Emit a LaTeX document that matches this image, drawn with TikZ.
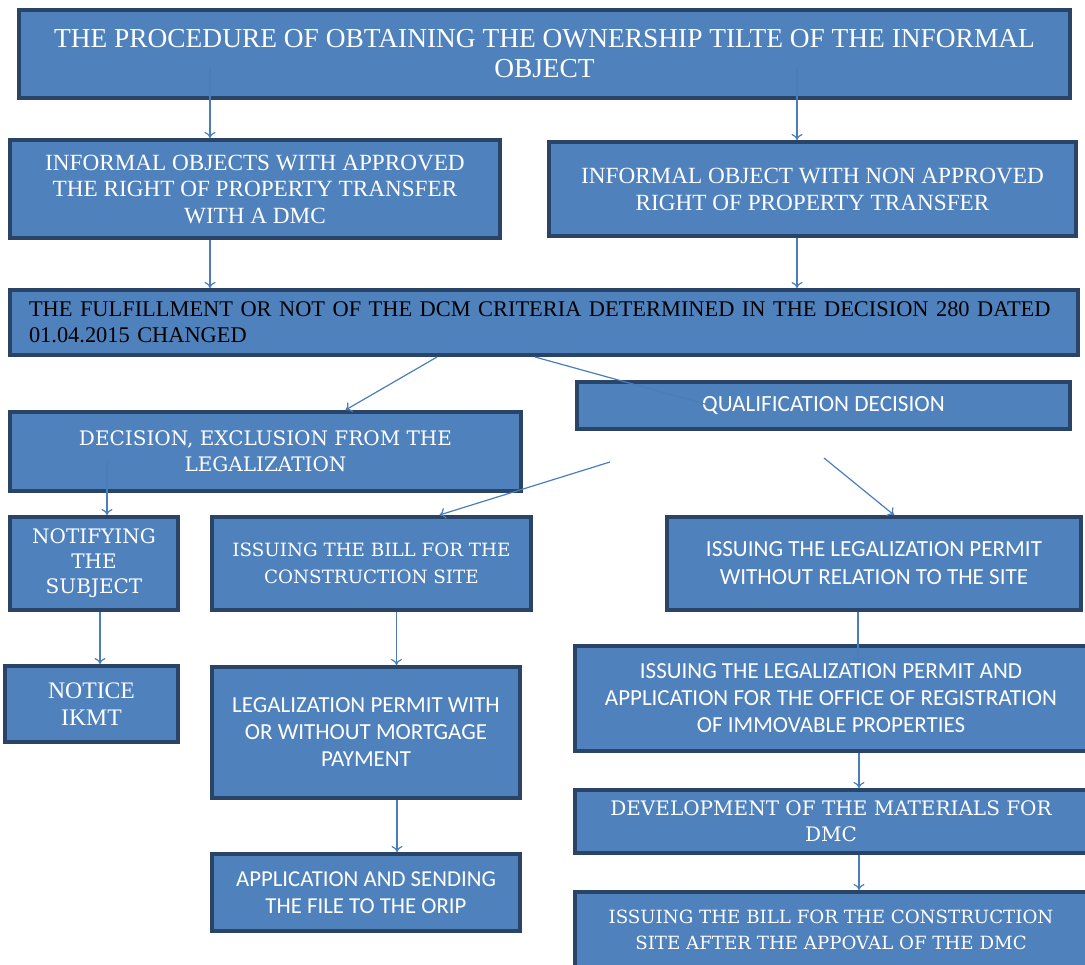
\documentclass[tikz,border=0pt]{standalone}
\usepackage{fontspec}
\setmainfont{Liberation Serif}
\newfontfamily\calibrifont{Carlito}
\newfontfamily\slabfont{DejaVu Serif}
\usetikzlibrary{arrows.meta,positioning}
\definecolor{boxblue}{HTML}{4F81BD}
\definecolor{boxedge}{HTML}{2A4468}
\definecolor{linkblue}{HTML}{4A7EBB}
\tikzset{%
	block/.style    = {draw=boxedge, fill=boxblue, line width=4pt, rectangle, inner sep=0pt, align=center, text=white},
	serifbox/.style = {block, font=\fontsize{23.2}{26.5}\selectfont},
	sansbox/.style  = {block, font=\calibrifont\fontsize{23}{27}\selectfont},
	slabbox/.style  = {block, font=\slabfont\fontsize{20}{26}\selectfont},
	link/.style     = {draw=linkblue, line width=1.2pt},
	arrow/.style    = {link, -{To[length=6pt,width=11pt]}},
}
\begin{document}
\begin{tikzpicture}[x=1pt,y=-1pt]
	\useasboundingbox (0,0) rectangle (1085,965);
	% top level
	\node[serifbox, font=\fontsize{27.4}{30}\selectfont, minimum width=1051, minimum height=88] (title) at (544.5,54) {THE PROCEDURE OF OBTAINING THE OWNERSHIP TILTE OF THE INFORMAL\\OBJECT};
	\node[serifbox, minimum width=490, minimum height=98] (apprv) at (255,189) {INFORMAL OBJECTS WITH APPROVED\\THE RIGHT OF PROPERTY TRANSFER\\WITH A DMC};
	\node[serifbox, font=\fontsize{23.2}{27}\selectfont, minimum width=527, minimum height=94] (nonap) at (812.5,189) {INFORMAL OBJECT WITH NON APPROVED\\RIGHT OF PROPERTY TRANSFER};
	\node[serifbox, font=\fontsize{22.4}{26}\selectfont, text=black, align=left, text width=1030, minimum width=1068, minimum height=65] (crit) at (544,322.5) {THE FULFILLMENT OR NOT OF THE DCM CRITERIA DETERMINED IN THE DECISION 280 DATED\\01.04.2015 CHANGED};
	% decisions
	\node[sansbox, font=\calibrifont\fontsize{23.2}{27}\selectfont, minimum width=493, minimum height=47] (qual) at (823.5,405.5) {QUALIFICATION DECISION};
	\node[slabbox, minimum width=511, minimum height=79] (excl) at (265.5,451.5) {DECISION, EXCLUSION FROM THE\\LEGALIZATION};
	\node[slabbox, font=\slabfont\fontsize{20}{25}\selectfont, minimum width=168, minimum height=93] (notif) at (94,563.5) {NOTIFYING\\THE\\SUBJECT};
	\node[slabbox, font=\slabfont\fontsize{18.3}{27}\selectfont, minimum width=319, minimum height=93] (bill) at (371.5,563.5) {ISSUING THE BILL FOR THE\\CONSTRUCTION SITE};
	\node[sansbox, font=\calibrifont\fontsize{23.1}{28}\selectfont, minimum width=414, minimum height=93] (perm) at (874,563.5) {ISSUING THE LEGALIZATION PERMIT\\WITHOUT RELATION TO THE SITE};
	% lower rows
	\node[serifbox, font=\fontsize{23.7}{27}\selectfont, minimum width=173, minimum height=76] (notice) at (91.5,704) {NOTICE\\IKMT};
	\node[sansbox, minimum width=308, minimum height=131] (legal) at (366,732.5) {LEGALIZATION PERMIT WITH\\OR WITHOUT MORTGAGE\\PAYMENT};
	\node[sansbox, font=\calibrifont\fontsize{22.8}{27}\selectfont, minimum width=308, minimum height=77] (appl) at (366,892.5) {APPLICATION AND SENDING\\THE FILE TO THE ORIP};
	\node[sansbox, minimum width=512, minimum height=105] (reg) at (831,698.5) {ISSUING THE LEGALIZATION PERMIT AND\\APPLICATION FOR THE OFFICE OF REGISTRATION\\OF IMMOVABLE PROPERTIES};
	\node[slabbox, minimum width=512, minimum height=63] (dev) at (831,821.5) {DEVELOPMENT OF THE MATERIALS FOR\\DMC};
	\node[slabbox, font=\slabfont\fontsize{18.2}{26}\selectfont, minimum width=512, minimum height=76] (site) at (831,930) {ISSUING THE BILL FOR THE CONSTRUCTION\\SITE AFTER THE APPOVAL OF THE DMC};
	% connectors
	\coordinate (t1) at (210,68);
	\coordinate (t2) at (797,68);
	\coordinate (e1) at (107,462);
	\coordinate (q1) at (610,462);
	\coordinate (q2) at (824,458);
	\coordinate (r1) at (858,663);
	\draw[arrow] (t1) -- (t1 |- apprv.north);
	\draw[arrow] (t2) -- (t2 |- nonap.north);
	\draw[arrow] (t1 |- apprv.south) -- (t1 |- crit.north);
	\draw[arrow] (t2 |- nonap.south) -- (t2 |- crit.north);
	\draw[arrow] ([xshift=-107]crit.south) -- ([xshift=80]excl.north);
	\draw[link] ([xshift=-9]crit.south) -- ([xshift=-113]qual.center);
	\draw[arrow] (e1) -- (e1 |- notif.north);
	\draw[arrow] (q1) -- ([xshift=68]bill.north);
	\draw[arrow] (q2) -- ([xshift=20]perm.north);
	\draw[arrow] ([xshift=6]notif.south) -- ([xshift=6]notif.south |- notice.north);
	\draw[arrow] ([xshift=25]bill.south) -- ([xshift=25]bill.south |- legal.north);
	\draw[arrow] ([xshift=31]legal.south) -- ([xshift=31]legal.south |- appl.north);
	\draw[arrow] ([xshift=-16]perm.south) -- (r1);
	\draw[arrow] ([xshift=28]reg.south) -- ([xshift=28]reg.south |- dev.north);
	\draw[arrow] ([xshift=28]dev.south) -- ([xshift=28]dev.south |- site.north);
\end{tikzpicture}
\end{document}
